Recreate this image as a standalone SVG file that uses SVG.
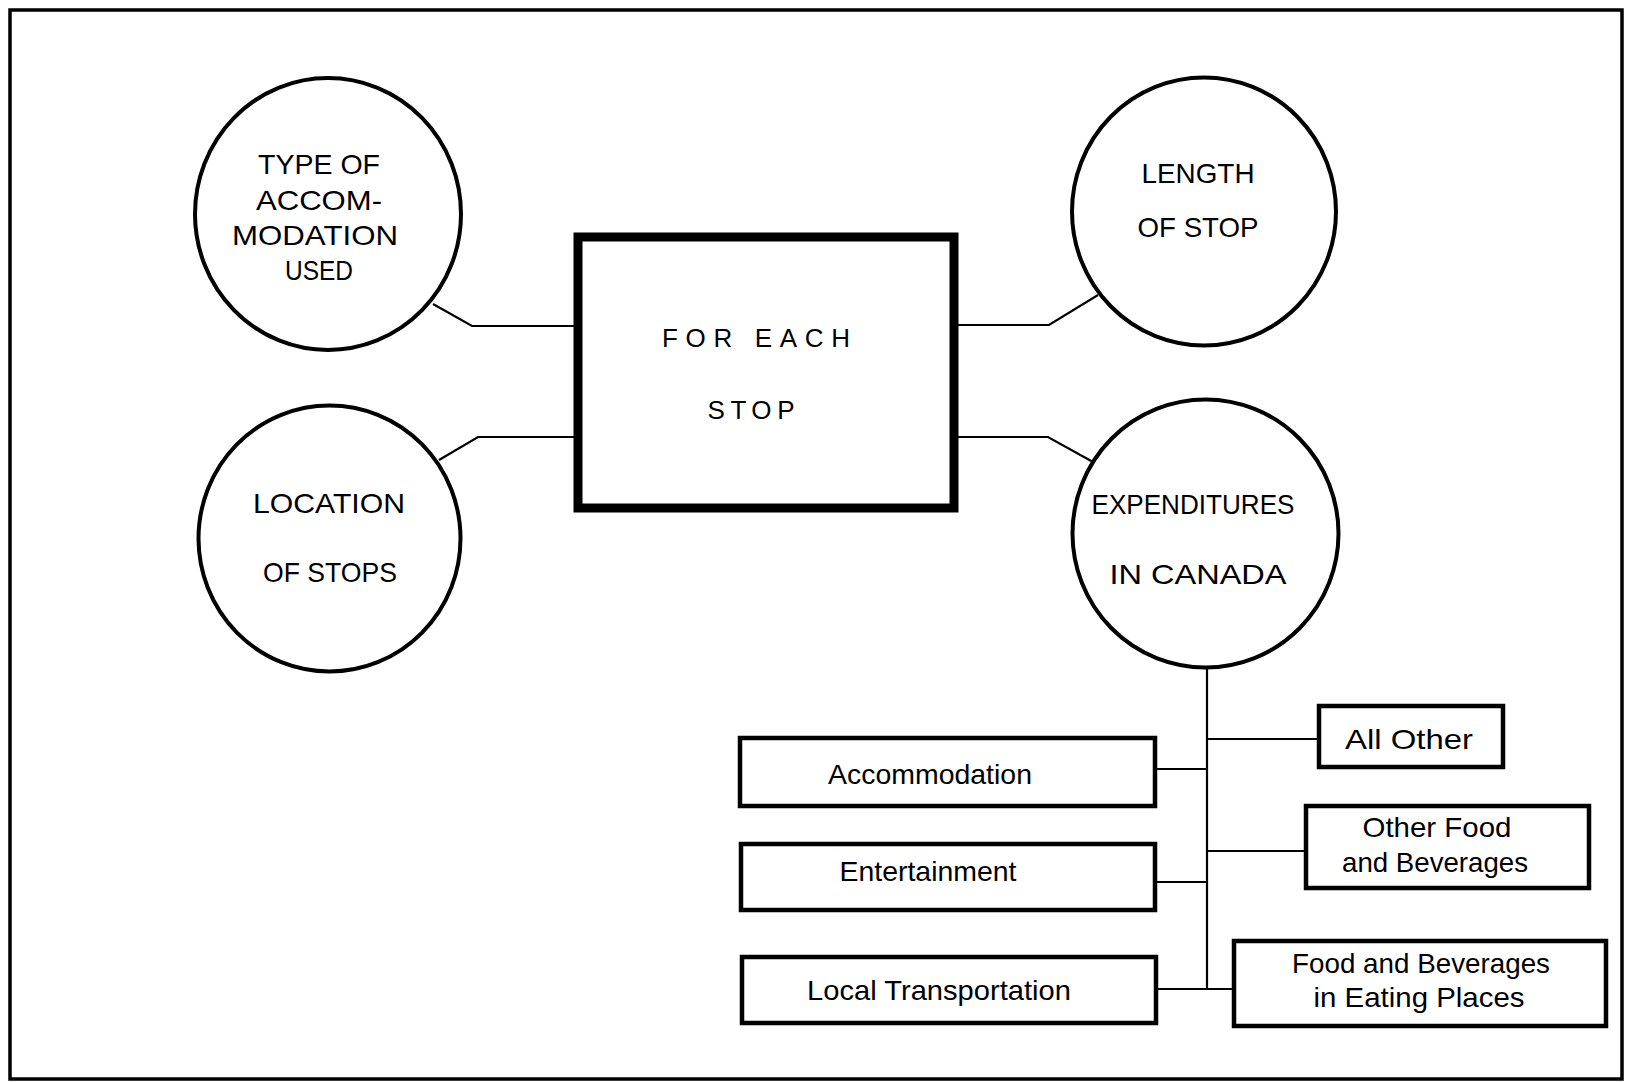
<svg xmlns="http://www.w3.org/2000/svg" width="1628" height="1082" viewBox="0 0 1628 1082">
  <style>
    .bg { fill: #ffffff; }
    .frame { fill: none; stroke: #000; stroke-width: 3.5; }
    .circle { fill: #fff; stroke: #000; stroke-width: 4; }
    .main { fill: #fff; stroke: #000; stroke-width: 9; }
    .box { fill: #fff; stroke: #000; stroke-width: 4.5; }
    .conn { fill: none; stroke: #000; stroke-width: 2.2; }
    text { font-family: "Liberation Sans", Arial, sans-serif; fill: #000; text-anchor: middle; }
    .cap { font-size: 28px; }
    .wide { font-size: 26px; }
    .lc { font-size: 28px; }
  </style>
  <rect class="bg" x="0" y="0" width="1628" height="1082"/>
  <rect class="frame" x="10" y="10" width="1612" height="1069"/>

  <g id="connectors">
    <polyline class="conn" points="433,304 472,326 576,326"/>
    <polyline class="conn" points="439,460 478,437 576,437"/>
    <polyline class="conn" points="956,325 1049,325 1098,295"/>
    <polyline class="conn" points="956,437 1048,437 1093,462"/>
    <line class="conn" x1="1207" y1="669" x2="1207" y2="989"/>
    <line class="conn" x1="1207" y1="739" x2="1317" y2="739"/>
    <line class="conn" x1="1157" y1="769" x2="1207" y2="769"/>
    <line class="conn" x1="1207" y1="851" x2="1304" y2="851"/>
    <line class="conn" x1="1157" y1="882" x2="1207" y2="882"/>
    <line class="conn" x1="1158" y1="989" x2="1232" y2="989"/>
  </g>

  <g id="type-of-accommodation">
    <ellipse class="circle" cx="328" cy="214" rx="133" ry="136"/>
    <text class="cap" x="319" y="174" textLength="122" lengthAdjust="spacingAndGlyphs">TYPE  OF</text>
    <text class="cap" x="319" y="210" textLength="126" lengthAdjust="spacingAndGlyphs">ACCOM-</text>
    <text class="cap" x="315" y="245" textLength="166" lengthAdjust="spacingAndGlyphs">MODATION</text>
    <text class="cap" x="319" y="280" textLength="68" lengthAdjust="spacingAndGlyphs">USED</text>
  </g>

  <g id="location-of-stops">
    <ellipse class="circle" cx="329.5" cy="538.5" rx="131" ry="133"/>
    <text class="cap" x="329" y="513" textLength="152" lengthAdjust="spacingAndGlyphs">LOCATION</text>
    <text class="cap" x="330" y="582" textLength="134" lengthAdjust="spacingAndGlyphs">OF STOPS</text>
  </g>

  <g id="for-each-stop">
    <rect class="main" x="578" y="237" width="376" height="271"/>
    <text class="wide" x="756" y="347" textLength="188" lengthAdjust="spacing">FOR  EACH</text>
    <text class="wide" x="751" y="419" textLength="87" lengthAdjust="spacing">STOP</text>
  </g>

  <g id="length-of-stop">
    <ellipse class="circle" cx="1204" cy="211.5" rx="132" ry="134"/>
    <text class="cap" x="1198" y="183" textLength="113" lengthAdjust="spacingAndGlyphs">LENGTH</text>
    <text class="cap" x="1198" y="237" textLength="121" lengthAdjust="spacingAndGlyphs">OF STOP</text>
  </g>

  <g id="expenditures-in-canada">
    <ellipse class="circle" cx="1205.5" cy="533.5" rx="133" ry="134"/>
    <text class="cap" x="1193" y="514" textLength="203" lengthAdjust="spacingAndGlyphs">EXPENDITURES</text>
    <text class="cap" x="1198" y="584" textLength="177" lengthAdjust="spacingAndGlyphs">IN  CANADA</text>
  </g>

  <g id="accommodation">
    <rect class="box" x="740" y="738" width="415" height="68"/>
    <text class="lc" x="930" y="784" textLength="204" lengthAdjust="spacingAndGlyphs">Accommodation</text>
  </g>

  <g id="entertainment">
    <rect class="box" x="741" y="844" width="414" height="66"/>
    <text class="lc" x="928" y="881" textLength="177" lengthAdjust="spacingAndGlyphs">Entertainment</text>
  </g>

  <g id="local-transportation">
    <rect class="box" x="742" y="957" width="414" height="66"/>
    <text class="lc" x="939" y="1000" textLength="264" lengthAdjust="spacingAndGlyphs">Local Transportation</text>
  </g>

  <g id="all-other">
    <rect class="box" x="1319" y="706" width="184" height="61"/>
    <text class="lc" x="1409" y="749" textLength="128" lengthAdjust="spacingAndGlyphs">All Other</text>
  </g>

  <g id="other-food">
    <rect class="box" x="1306" y="806" width="283" height="82"/>
    <text class="lc" x="1437" y="837" textLength="149" lengthAdjust="spacingAndGlyphs">Other Food</text>
    <text class="lc" x="1435" y="872" textLength="186" lengthAdjust="spacingAndGlyphs">and Beverages</text>
  </g>

  <g id="food-eating-places">
    <rect class="box" x="1234" y="941" width="372" height="85"/>
    <text class="lc" x="1421" y="973" textLength="258" lengthAdjust="spacingAndGlyphs">Food and Beverages</text>
    <text class="lc" x="1419" y="1007" textLength="211" lengthAdjust="spacingAndGlyphs">in Eating Places</text>
  </g>
</svg>
